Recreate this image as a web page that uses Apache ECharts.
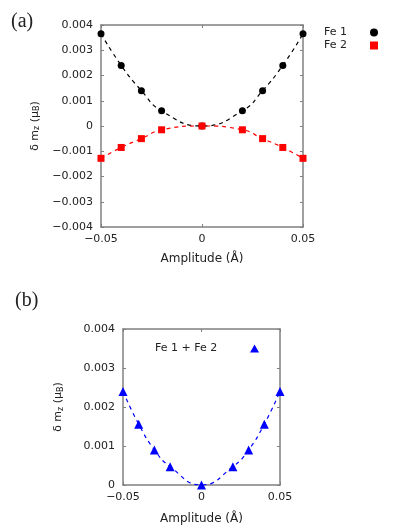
<!DOCTYPE html>
<html>
<head>
<meta charset="utf-8">
<script src="https://cdn.jsdelivr.net/npm/echarts@6/dist/echarts.min.js"></script>
<style>
  html, body { margin: 0; padding: 0; background: #fff; }
  #chart { width: 399px; height: 528px; }
</style>
</head>
<body>
<div id="chart"></div>
<script>
// amplitude (Å)
const amplitudes = [-0.05, -0.04, -0.03, -0.02, 0, 0.02, 0.03, 0.04, 0.05];
// delta m_z (mu_B)
const fe1Values = [0.00365, 0.0024, 0.0014, 0.0006, 0, 0.0006, 0.0014, 0.0024, 0.00365];
const fe2Values = [-0.00128, -0.00085, -0.0005, -0.00015, 0, -0.00015, -0.0005, -0.00085, -0.00128];
const sumValues = [0.0024, 0.00156, 0.0009, 0.00047, 0, 0.00047, 0.0009, 0.00156, 0.0024];

const font = "DejaVu Sans";
const textColor = "#222";
const frameColor = "#808080";

function pairs(vals) {
  return amplitudes.map((x, i) => [x, vals[i]]);
}
function fmtY(v) {
  if (Math.abs(v) < 1e-9) return "0";
  return v.toFixed(3).replace("-", "\u2212");
}
function fmtX(v) {
  if (Math.abs(v) < 1e-9) return "0";
  return v.toFixed(2).replace("-", "\u2212");
}

const yName = "{n|δ m}{s|z}{n| (μ}{s|B}{n|)}";
const yNameRich = {
  n: { fontFamily: font, fontSize: 11, color: textColor },
  s: { fontFamily: font, fontSize: 8, color: textColor, padding: [5, 0, 0, 0] },
};

// main axes (bottom / left) with labels, mirror axes (top / right) only ticks
function xAxes(gridIndex, nameGap) {
  return [
    {
      type: "value", gridIndex: gridIndex, min: -0.05, max: 0.05, interval: 0.05,
      name: "Amplitude (Å)", nameLocation: "middle", nameGap: nameGap,
      nameTextStyle: { fontFamily: font, fontSize: 12, color: textColor },
      axisLine: { onZero: false, lineStyle: { color: frameColor, width: 1.5 } },
      axisTick: { inside: true, length: 3, lineStyle: { color: frameColor } },
      axisLabel: { fontFamily: font, fontSize: 11, color: textColor, margin: 7, formatter: fmtX },
      splitLine: { show: false },
    },
    {
      type: "value", gridIndex: gridIndex, position: "top", min: -0.05, max: 0.05, interval: 0.05,
      axisLine: { onZero: false, lineStyle: { color: frameColor, width: 1.5 } },
      axisTick: { inside: true, length: 3, lineStyle: { color: frameColor } },
      axisLabel: { show: false },
      splitLine: { show: false },
    },
  ];
}
function yAxes(gridIndex, min, max) {
  return [
    {
      type: "value", gridIndex: gridIndex, min: min, max: max, interval: 0.001,
      name: yName, nameLocation: "middle", nameGap: 58, nameRotate: 90,
      nameTextStyle: { rich: yNameRich },
      axisLine: { show: true, onZero: false, lineStyle: { color: frameColor, width: 1.5 } },
      axisTick: { show: true, inside: true, length: 3, lineStyle: { color: frameColor } },
      axisLabel: { fontFamily: font, fontSize: 11, color: textColor, margin: 8, formatter: fmtY },
      splitLine: { show: false },
    },
    {
      type: "value", gridIndex: gridIndex, position: "right", min: min, max: max, interval: 0.001,
      axisLine: { show: true, onZero: false, lineStyle: { color: frameColor, width: 1.5 } },
      axisTick: { show: true, inside: true, length: 3, lineStyle: { color: frameColor } },
      axisLabel: { show: false },
      splitLine: { show: false },
    },
  ];
}

function legendText(width) {
  return {
    fontFamily: font, fontSize: 11, color: textColor,
    rich: { t: { fontFamily: font, fontSize: 11, color: textColor, width: width, align: "left" } },
  };
}

const chart = echarts.init(document.getElementById("chart"));
chart.setOption({
  animation: false,
  backgroundColor: "#fff",
  grid: [
    { left: 101, top: 25, width: 202, height: 202 },
    { left: 123, top: 329, width: 157, height: 156 },
  ],
  xAxis: xAxes(0, 26).concat(xAxes(1, 28)),
  yAxis: yAxes(0, -0.004, 0.004).concat(yAxes(1, 0, 0.004)),
  legend: [
    {
      left: 319, top: 22, orient: "vertical", align: "right", itemGap: 2,
      itemWidth: 8, itemHeight: 8,
      formatter: (name) => "{t|" + name + "}",
      textStyle: legendText(41),
      data: [
        { name: "Fe 1", icon: "circle" },
        { name: "Fe 2", icon: "rect" },
      ],
    },
    {
      left: 150, top: 338, align: "right",
      itemWidth: 9, itemHeight: 8,
      formatter: (name) => "{t|" + name + "}",
      textStyle: legendText(90),
      data: [{ name: "Fe 1 + Fe 2", icon: "triangle" }],
    },
  ],
  graphic: [
    { type: "text", left: 11, top: 12, style: { text: "(a)", font: "20px 'Liberation Serif'", fill: "#222" } },
    { type: "text", left: 15, top: 291, style: { text: "(b)", font: "20px 'Liberation Serif'", fill: "#222" } },
  ],
  series: [
    {
      name: "Fe 1", type: "line", xAxisIndex: 0, yAxisIndex: 0,
      data: pairs(fe1Values), smooth: 0.5,
      symbol: "circle", symbolSize: 7,
      itemStyle: { color: "#000" },
      lineStyle: { color: "#000", width: 1.2, type: [4, 4] },
    },
    {
      name: "Fe 2", type: "line", xAxisIndex: 0, yAxisIndex: 0,
      data: pairs(fe2Values), smooth: 0.5,
      symbol: "rect", symbolSize: 7,
      itemStyle: { color: "#ff0000" },
      lineStyle: { color: "#ff0000", width: 1.2, type: [4, 4] },
    },
    {
      name: "Fe 1 + Fe 2", type: "line", xAxisIndex: 2, yAxisIndex: 2,
      data: pairs(sumValues), smooth: 0.5,
      symbol: "triangle", symbolSize: 9,
      itemStyle: { color: "#0000ff" },
      lineStyle: { color: "#0000ff", width: 1.2, type: [4, 4] },
    },
  ],
});
</script>
</body>
</html>
